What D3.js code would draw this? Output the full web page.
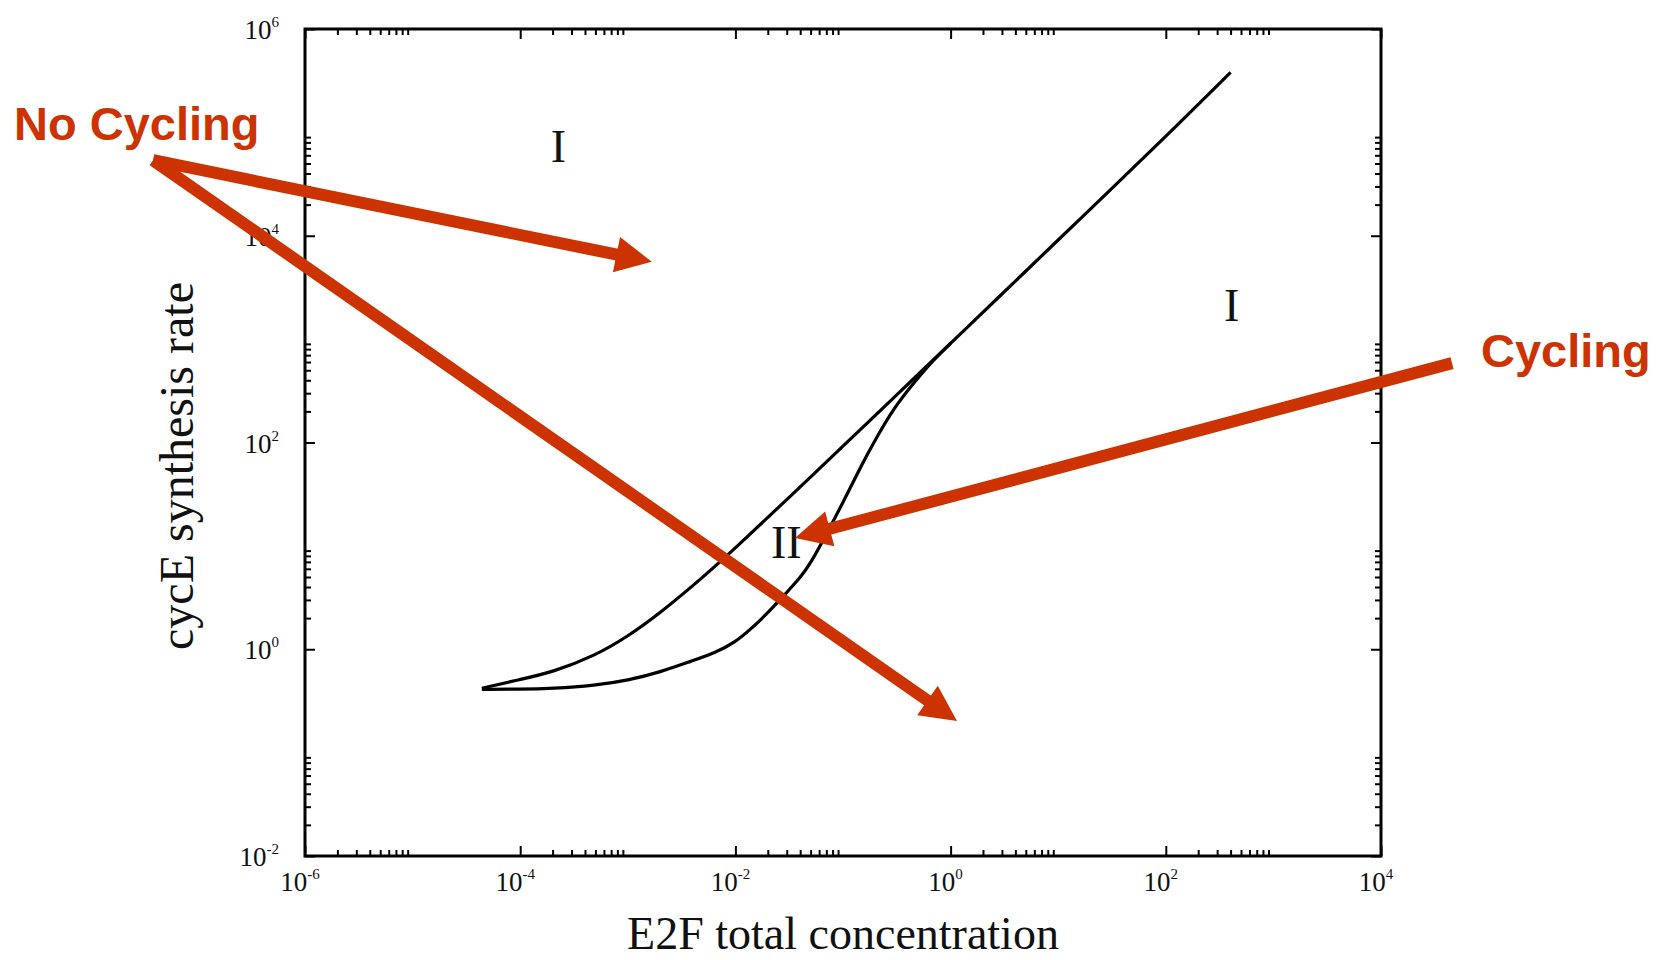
<!DOCTYPE html>
<html>
<head>
<meta charset="utf-8">
<script src="https://cdn.jsdelivr.net/npm/d3@7"></script>
<style>
  body { margin: 0; background: #fff; }
</style>
</head>
<body>
<div class="canvas"></div>
<script>
/**
 * Data
 */
const xMajor = [1e-6, 1e-4, 1e-2, 1, 1e2, 1e4]
const xExp = ["-6", "-4", "-2", "0", "2", "4"]
const yMajor = [1e-2, 1, 1e2, 1e4, 1e6]
const yExp = ["-2", "0", "2", "4", "6"]

// upper branch, continues into the straight line
const upperE2F = [4.4e-5, 1e-4, 2e-4, 5e-4, 1e-3, 2e-3, 5e-3, 1e-2, 3e-2, 0.1, 0.3, 1, 3, 10, 30, 100, 400]
const upperRate = [0.42, 0.51, 0.60, 0.87, 1.33, 2.24, 4.97, 9.5, 28, 92, 275, 910, 2730, 9100, 27300, 91000, 380000]

// lower branch, runs into the upper one near E2F ~ 0.65
const lowerE2F = [4.4e-5, 1e-4, 2e-4, 5e-4, 1e-3, 2e-3, 4e-3, 6.3e-3, 1e-2, 1.4e-2, 2e-2, 3e-2, 4e-2, 5e-2, 7e-2, 0.1, 0.15, 0.2, 0.3, 0.45, 0.65, 1]
const lowerRate = [0.41, 0.41, 0.417, 0.447, 0.50, 0.60, 0.776, 0.91, 1.17, 1.58, 2.24, 3.55, 4.9, 6.8, 12.9, 26.3, 61.7, 107, 219, 372, 589, 912]

// region labels
const regionNames = ["I", "I", "II"]
const regionE2F = [2.26e-4, 409, 0.0297]
const regionRate = [5.19e4, 1503, 7.57]

// red annotation arrows, start and tip in data space
const arrowFromE2F = [3.87e-8, 3.87e-8, 45700]
const arrowFromRate = [5.38e4, 5.38e4, 586]
const arrowToE2F = [1.67e-3, 1.147, 0.0358]
const arrowToRate = [5600, 0.202, 11.9]

/**
 * Dimensions
 */
const margin = { left: 305, top: 29 }
const dims = { width: 1076, height: 827 }
const red = "#cc3300"
const serif = "'Liberation Serif', 'Times New Roman', serif"
const sans = "'Liberation Sans', Arial, sans-serif"

const svg = d3.select(".canvas")
    .append("svg")
    .attr("width", 1667)
    .attr("height", 960)

const graph = svg.append("g")
    .attr("transform", `translate(${margin.left}, ${margin.top})`)

const x = d3.scaleLog().domain([1e-6, 1e4]).range([0, dims.width])
const y = d3.scaleLog().domain([1e-2, 1e6]).range([dims.height, 0])

// minor ticks 2..9 in the decade after each labelled one
const minorOf = majors => majors.slice(0, -1).flatMap(m => d3.range(2, 10).map(k => k * m))
const xMinor = minorOf(xMajor)
const yMinor = minorOf(yMajor)

/**
 * Axes (ticks point inward on all four sides)
 */
const drawTicks = (axis, transform) => {
    const g = graph.append("g")
        .attr("transform", transform)
        .call(axis.tickFormat(""))
    g.select(".domain").remove()
    g.selectAll(".tick line").attr("stroke", "#000").attr("stroke-width", 2)
}

drawTicks(d3.axisBottom(x).tickValues(xMajor).tickSize(-10), `translate(0, ${dims.height})`)
drawTicks(d3.axisBottom(x).tickValues(xMinor).tickSize(-6), `translate(0, ${dims.height})`)
drawTicks(d3.axisTop(x).tickValues(xMajor).tickSize(-10), "translate(0, 0)")
drawTicks(d3.axisTop(x).tickValues(xMinor).tickSize(-6), "translate(0, 0)")
drawTicks(d3.axisLeft(y).tickValues(yMajor).tickSize(-10), "translate(0, 0)")
drawTicks(d3.axisLeft(y).tickValues(yMinor).tickSize(-6), "translate(0, 0)")
drawTicks(d3.axisRight(y).tickValues(yMajor).tickSize(-10), `translate(${dims.width}, 0)`)
drawTicks(d3.axisRight(y).tickValues(yMinor).tickSize(-6), `translate(${dims.width}, 0)`)

graph.append("rect")
    .attr("width", dims.width)
    .attr("height", dims.height)
    .attr("fill", "none")
    .attr("stroke", "#000")
    .attr("stroke-width", 3)

// tick labels as 10 with a raised exponent
const xLabels = graph.selectAll(".xlab")
    .data(xMajor)
    .join("text")
    .attr("class", "xlab")
    .attr("x", d => x(d) - 5)
    .attr("y", dims.height + 35)
    .attr("text-anchor", "middle")
    .attr("font-family", serif)
    .attr("font-size", 27)
    .attr("fill", "#111")
xLabels.append("tspan").text("10")
xLabels.append("tspan")
    .attr("dy", -12)
    .attr("font-size", 15)
    .text((d, i) => xExp[i])

const yLabels = graph.selectAll(".ylab")
    .data(yMajor)
    .join("text")
    .attr("class", "ylab")
    .attr("x", -26)
    .attr("y", d => y(d) + 10)
    .attr("text-anchor", "end")
    .attr("font-family", serif)
    .attr("font-size", 27)
    .attr("fill", "#111")
yLabels.append("tspan").text("10")
yLabels.append("tspan")
    .attr("dy", -12)
    .attr("font-size", 15)
    .text((d, i) => yExp[i])

// axis titles
svg.append("text")
    .attr("x", 843)
    .attr("y", 949)
    .attr("text-anchor", "middle")
    .attr("font-family", serif)
    .attr("font-size", 46)
    .attr("fill", "#111")
    .text("E2F total concentration")

svg.append("text")
    .attr("transform", "translate(193, 466) rotate(-90)")
    .attr("text-anchor", "middle")
    .attr("font-family", serif)
    .attr("font-size", 48)
    .attr("fill", "#111")
    .text("cycE synthesis rate")

/**
 * Curves
 */
const line = d3.line()
    .x(d => x(d[0]))
    .y(d => y(d[1]))
    .curve(d3.curveBasis)

graph.append("path")
    .datum(d3.zip(upperE2F, upperRate))
    .attr("fill", "none")
    .attr("stroke", "#000")
    .attr("stroke-width", 3.2)
    .attr("d", line)

graph.append("path")
    .datum(d3.zip(lowerE2F, lowerRate))
    .attr("fill", "none")
    .attr("stroke", "#000")
    .attr("stroke-width", 3.2)
    .attr("d", line)

graph.selectAll(".region")
    .data(regionNames)
    .join("text")
    .attr("class", "region")
    .attr("x", (d, i) => x(regionE2F[i]))
    .attr("y", (d, i) => y(regionRate[i]))
    .attr("text-anchor", "middle")
    .attr("font-family", serif)
    .attr("font-size", 46)
    .attr("fill", "#111")
    .text(d => d)

/**
 * Annotations
 */
const headLen = 36, headHalf = 18

arrowFromE2F.forEach((_, i) => {
    const x0 = x(arrowFromE2F[i]), y0 = y(arrowFromRate[i])
    const x1 = x(arrowToE2F[i]), y1 = y(arrowToRate[i])
    const len = Math.hypot(x1 - x0, y1 - y0)
    const ux = (x1 - x0) / len, uy = (y1 - y0) / len
    const bx = x1 - ux * headLen, by = y1 - uy * headLen

    graph.append("line")
        .attr("x1", x0).attr("y1", y0)
        .attr("x2", bx + ux * 2).attr("y2", by + uy * 2)
        .attr("stroke", red)
        .attr("stroke-width", 12)

    graph.append("path")
        .attr("d", `M${x1},${y1}L${bx - uy * headHalf},${by + ux * headHalf}L${bx + uy * headHalf},${by - ux * headHalf}Z`)
        .attr("fill", red)
})

svg.append("text")
    .attr("x", 14)
    .attr("y", 140)
    .attr("font-family", sans)
    .attr("font-weight", "bold")
    .attr("font-size", 47)
    .attr("fill", red)
    .text("No Cycling")

svg.append("text")
    .attr("x", 1481)
    .attr("y", 367)
    .attr("font-family", sans)
    .attr("font-weight", "bold")
    .attr("font-size", 47)
    .attr("fill", red)
    .text("Cycling")
</script>
</body>
</html>
